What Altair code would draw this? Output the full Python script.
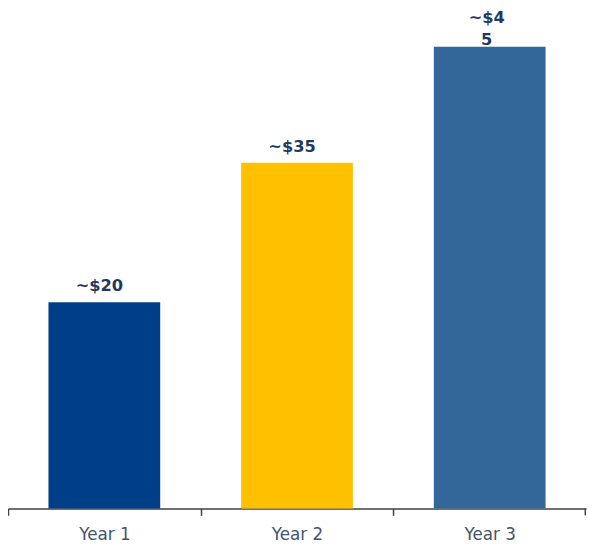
import altair as alt
import pandas as pd

years = ["Year 1", "Year 2", "Year 3"]
values = [20.1, 33.7, 45]
labels = ["~$20", "~$35", "~$4\n5"]
colors = ["#003F87", "#FFC000", "#336699"]

df = pd.DataFrame({"year": years, "value": values, "label": labels, "color": colors})

W = 587
H = 504

x = alt.X(
    "year:N",
    sort=years,
    scale=alt.Scale(paddingInner=0.42, paddingOuter=0.21),
    axis=alt.Axis(
        title=None,
        labelFont="DejaVu Sans",
        labelFontSize=17,
        labelColor="#44546A",
        labelAngle=0,
        labelPadding=12,
        labelOffset=W / 6,
        tickSize=7,
        tickOffset=-W / 6,
        tickColor="#404040",
        tickWidth=1.5,
        domainColor="#404040",
        domainWidth=1.5,
        grid=False,
    ),
)
y = alt.Y("value:Q", scale=alt.Scale(domain=[0, 48.37], nice=False, zero=True), axis=None)

bars = alt.Chart(df).mark_bar().encode(
    x=x, y=y, color=alt.Color("color:N", scale=None)
)

text_main = alt.Chart(df).transform_filter(alt.datum.year != "Year 3").mark_text(
    font="DejaVu Sans", fontWeight="bold", fontSize=16.5, color="#1F3A60",
    baseline="alphabetic", dy=-11, dx=-5
).encode(x=alt.X("year:N", sort=years), y="value:Q", text="label:N")

text_last = alt.Chart(df).transform_filter(alt.datum.year == "Year 3").mark_text(
    font="DejaVu Sans", fontWeight="bold", fontSize=16.5, color="#1F3A60",
    baseline="alphabetic", dy=-24, dx=-3, lineBreak="\n", lineHeight=22
).encode(x=alt.X("year:N", sort=years), y="value:Q", text="label:N")

end_tick = alt.Chart(pd.DataFrame({"k": [0]})).mark_rule(color="#404040", strokeWidth=1.5).encode(
    x=alt.value(W - 0.75), y=alt.value(H), y2=alt.value(H + 7)
)

chart = alt.layer(bars, text_main, text_last, end_tick).properties(
    width=W, height=H,
    autosize=alt.AutoSizeParams(type="none"),
    padding={"left": 0, "top": 0, "right": 2, "bottom": 38},
).configure_view(stroke=None)

chart.save("out.html", embed_options={"renderer": "svg", "actions": False})
